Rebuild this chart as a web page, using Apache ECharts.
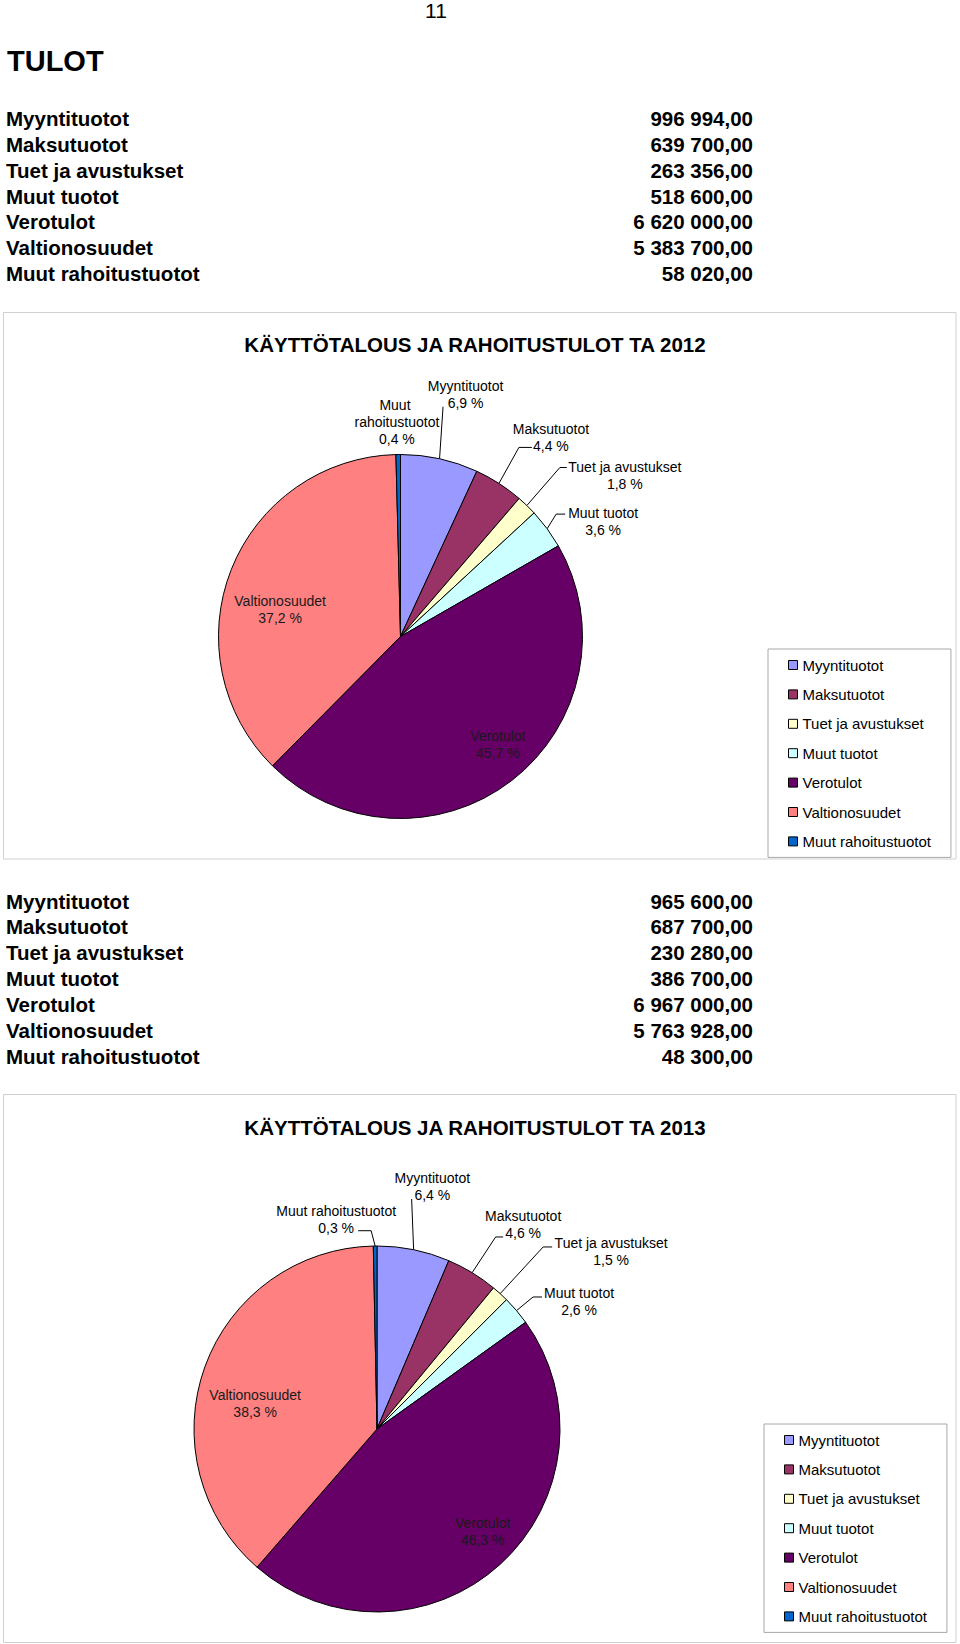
<!DOCTYPE html>
<html>
<head>
<meta charset="utf-8">
<script src="https://cdn.jsdelivr.net/npm/echarts@6/dist/echarts.min.js"></script>
<style>
html,body{margin:0;padding:0;background:#fff;}
#c{width:960px;height:1644px;}
</style>
</head>
<body>
<div id="c"></div>
<script>
// ---- data ----
const categories = ['Myyntituotot','Maksutuotot','Tuet ja avustukset','Muut tuotot','Verotulot','Valtionosuudet','Muut rahoitustuotot'];
const values2012 = [996994, 639700, 263356, 518600, 6620000, 5383700, 58020];
const values2013 = [965600, 687700, 230280, 386700, 6967000, 5763928, 48300];
const chartTitles = ['KÄYTTÖTALOUS JA RAHOITUSTULOT TA 2012', 'KÄYTTÖTALOUS JA RAHOITUSTULOT TA 2013'];
const pageNumber = '11';
const heading = 'TULOT';
const insideLabelNames = ['Verotulot', 'Valtionosuudet'];

// ---- styling / layout ----
const colors = ['#9999FF','#993366','#FFFFCC','#CCFFFF','#660066','#FF8080','#0066CC'];
const FONT = '"Liberation Sans", Arial, Helvetica, sans-serif';

// label placement tweaks (offsets from slice edge point / default inside position)
const place2012 = [
  {label:[26,-64],  line:[[3.5,-52],[3.5,-52]]},
  {label:[52,-46],  line:[[20,-36],[33,-36]]},
  {label:[98,-30],  line:[[33,-38],[40,-38]]},
  {label:[56,-7],   line:[[9,-14.6],[18,-14.6]]},
  {inside:[40,34]},
  {inside:[-33,8]},
  {label:[-1.3,-33], line:[[0,0],[0,0]]}
];
const place2013 = [
  {label:[18.7,-63], line:[[-2,-50.7],[-2,-50.7]]},
  {label:[51,-47.7], line:[[23.5,-35.7],[31,-35.7]]},
  {label:[111,-42],  line:[[43,-46.7],[52,-46.7]]},
  {label:[62.5,-9],  line:[[16.5,-13.6],[25.5,-13.6]]},
  {inside:[42,33]},
  {inside:[-33,7]},
  {label:[-39,-27],  line:[[-4,-15.3],[-17,-15.3]]}
];

function fmt(n){
  const s = n.toFixed(2).split('.');
  return s[0].replace(/\B(?=(\d{3})+(?!\d))/g, ' ') + ',' + s[1];
}

function txt(x, y, text, size, weight, align){
  return {
    type:'text', x:x, y:y, silent:true,
    style:{text:text, fontSize:size, fontWeight:weight, fontFamily:FONT, fill:'#000',
      align:align, textAlign:align, verticalAlign:'middle', textVerticalAlign:'middle'}
  };
}

const graphics = [];
graphics.push(txt(436, 10, pageNumber, 21, 'normal', 'center'));
graphics.push(txt(7, 61, heading, 29, 'bold', 'left'));

function addTable(values, top){
  categories.forEach(function(name, i){
    const y = top + i * 25.9;
    graphics.push(txt(6, y, name, 20.5, 'bold', 'left'));
    graphics.push(txt(753, y, fmt(values[i]), 20.5, 'bold', 'right'));
  });
}
addTable(values2012, 118.3);
addTable(values2013, 901);

// chart frames
[[312.5, 546.5], [1094.5, 548]].forEach(function(b){
  graphics.push({type:'rect', silent:true, z:-10,
    shape:{x:3.5, y:b[0], width:952.5, height:b[1]},
    style:{fill:'#fff', stroke:'#d0d0d0', lineWidth:1}});
});
graphics.push(txt(475, 344, chartTitles[0], 20.5, 'bold', 'center'));
graphics.push(txt(475, 1127, chartTitles[1], 20.5, 'bold', 'center'));

function labelFormatter(p){
  return p.name + '\n' + p.percent.toFixed(1).replace('.', ',') + ' %';
}

function makeLayout(place){
  return function(p){
    const cfg = place[p.dataIndex];
    const r = p.labelRect;
    if (cfg.inside) {
      return {x: r.x + r.width/2 + cfg.inside[0], y: r.y + r.height/2 + cfg.inside[1],
              align:'center', verticalAlign:'middle'};
    }
    const pts = p.labelLinePoints;
    if (!pts) return {};
    const e = pts[0];
    return {
      x: e[0] + cfg.label[0], y: e[1] + cfg.label[1], align:'center', verticalAlign:'middle',
      labelLinePoints: [[e[0], e[1]],
        [e[0] + cfg.line[0][0], e[1] + cfg.line[0][1]],
        [e[0] + cfg.line[1][0], e[1] + cfg.line[1][1]]]
    };
  };
}

function pieSeries(values, center, radius, place, wrapLong){
  return {
    type:'pie', center:center, radius:radius, startAngle:90, clockwise:true,
    avoidLabelOverlap:false, percentPrecision:1, silent:true,
    emphasis:{disabled:true},
    itemStyle:{borderColor:'#000', borderWidth:1},
    label:{show:true, position:'outside', formatter:labelFormatter, fontSize:14,
      fontFamily:FONT, color:'#000', lineHeight:17, align:'center'},
    labelLine:{show:true, length:10, length2:10, lineStyle:{color:'#000', width:1}},
    labelLayout: makeLayout(place),
    data: categories.map(function(name, i){
      const d = {name:name, value:values[i], itemStyle:{color:colors[i]}};
      if (insideLabelNames.indexOf(name) >= 0) {
        d.label = {position:'inside', color:'#1a1a1a'};
      } else if (wrapLong && name === 'Muut rahoitustuotot') {
        d.label = {width:100, overflow:'break'};
      }
      return d;
    })
  };
}

function legendAt(left, top){
  return {
    data: categories, orient:'vertical', left:left, top:top,
    padding:[8.5, 20, 8.5, 20], itemWidth:9, itemHeight:9, itemGap:14.4,
    icon:'rect', selectedMode:false, borderColor:'#a8a8a8', borderWidth:1,
    backgroundColor:'#fff',
    itemStyle:{borderColor:'#000', borderWidth:1},
    textStyle:{fontSize:15, fontFamily:FONT, color:'#000', lineHeight:15}
  };
}

const chart = echarts.init(document.getElementById('c'), null, {renderer:'svg', width:960, height:1644});
chart.setOption({
  animation:false,
  backgroundColor:'#fff',
  color: colors,
  graphic: {elements: graphics},
  legend: [legendAt(768, 649), legendAt(764, 1424)],
  series: [
    pieSeries(values2012, [400.5, 636.5], 182, place2012, true),
    pieSeries(values2013, [377, 1429], 183, place2013, false)
  ]
});
</script>
</body>
</html>
